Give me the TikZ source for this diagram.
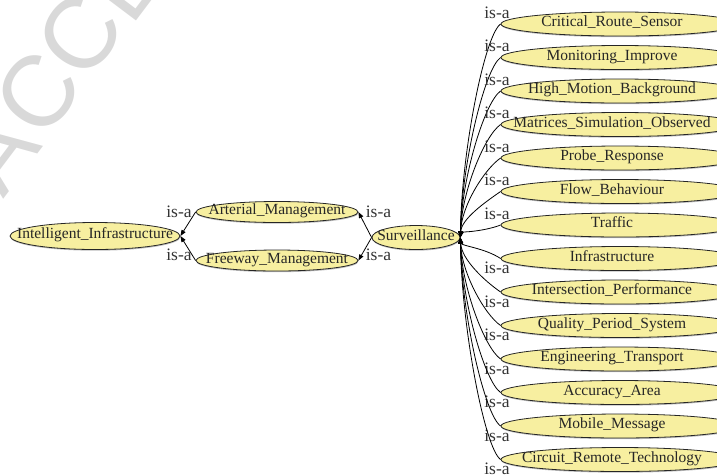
\documentclass[tikz,border=0pt]{standalone}
\usepackage{fontspec}
\setmainfont{Liberation Serif}
\newfontfamily\wmfont{Liberation Sans}
\usetikzlibrary{arrows.meta,shapes.geometric,shadows}

\definecolor{classfill}{RGB}{247,239,160}
\definecolor{wmgray}{RGB}{217,217,217}

\begin{document}
\begin{tikzpicture}[x=1pt,y=-1pt,
  cls/.style={ellipse, draw=black!85, line width=0.8pt, fill=classfill, inner sep=0pt,
    drop shadow={shadow xshift=0.4pt, shadow yshift=-1.2pt, opacity=0.25, fill=black}},
  clstext/.style={inner sep=0pt, text depth=0.22em, text height=0.72em,
    font=\fontsize{15.5}{18}\selectfont, text=black!85},
  isa/.style={inner sep=0pt, font=\fontsize{17.5}{20}\selectfont, text=black!80},
  rel/.style={draw=black, line width=0.8pt, -{Triangle[length=6pt,width=4.5pt]}},
  wm/.style={inner sep=0pt, text=wmgray, font=\wmfont\fontsize{100}{100}\selectfont, rotate=53}
]
\useasboundingbox (0,0) rectangle (717,475);
\clip (0,0) rectangle (717,475);

% watermark letters
\node[wm] (wmA) at (-4,152) {A};
\node[wm] (wmC1) at (38,93) {C};
\node[wm] (wmC2) at (80,35) {C};
\node[wm] (wmE) at (124,-20) {E};

% left part of the hierarchy
\node[cls, minimum width=170pt, minimum height=27pt] (ii) at (95,236) {};
\node[clstext] (iit) at (ii) {Intelligent\_Infrastructure};
\node[cls, minimum width=162pt, minimum height=21pt] (art) at (277,212) {};
\node[clstext] (artt) at (art) {Arterial\_Management};
\node[cls, minimum width=162pt, minimum height=21pt] (fw) at (277,260.5) {};
\node[clstext] (fwt) at (fw) {Freeway\_Management};
\node[cls, minimum width=88pt, minimum height=24pt] (sv) at (416,237.5) {};
\node[clstext] (svt) at (sv) {Surveillance};

\draw[rel] (art.west) -- (ii.east);
\draw[rel] (fw.west) -- (ii.east);
\draw[rel] (sv.west) -- (art.east);
\draw[rel] (sv.west) -- (fw.east);

\node[isa] (l1) at (179,212) {is-a};
\node[isa] (l2) at (179,255) {is-a};
\node[isa] (l3) at (378.5,212) {is-a};
\node[isa] (l4) at (378.5,255) {is-a};

% subclasses of Surveillance
\foreach \name [count=\k from 0] in {Critical\_Route\_Sensor, Monitoring\_Improve,
  High\_Motion\_Background, Matrices\_Simulation\_Observed, Probe\_Response,
  Flow\_Behaviour, Traffic, Infrastructure, Intersection\_Performance,
  Quality\_Period\_System, Engineering\_Transport, Accuracy\_Area,
  Mobile\_Message, Circuit\_Remote\_Technology} {
  \pgfmathsetmacro\yy{24+33.5*\k}
  \pgfmathsetmacro\dy{237.5-\yy}
  \pgfmathsetmacro\ca{sign(\dy)*min(11,abs(\dy)*0.5)}
  \pgfmathsetmacro\cb{-0.4*\dy}
  \pgfmathsetmacro\ly{\k<7 ? \yy-11.5 : \yy+9.5}
  \node[cls, minimum width=238pt, minimum height=24pt] (r\k) at (620,\yy) {};
  \node[clstext] (r\k t) at (612,\yy) {\name};
  \draw[rel] (r\k.west) .. controls +(-16,\ca) and +(1,\cb) .. (sv.east);
  \node[isa] (ri\k) at (497,\ly) {is-a};
}
\end{tikzpicture}
\end{document}
